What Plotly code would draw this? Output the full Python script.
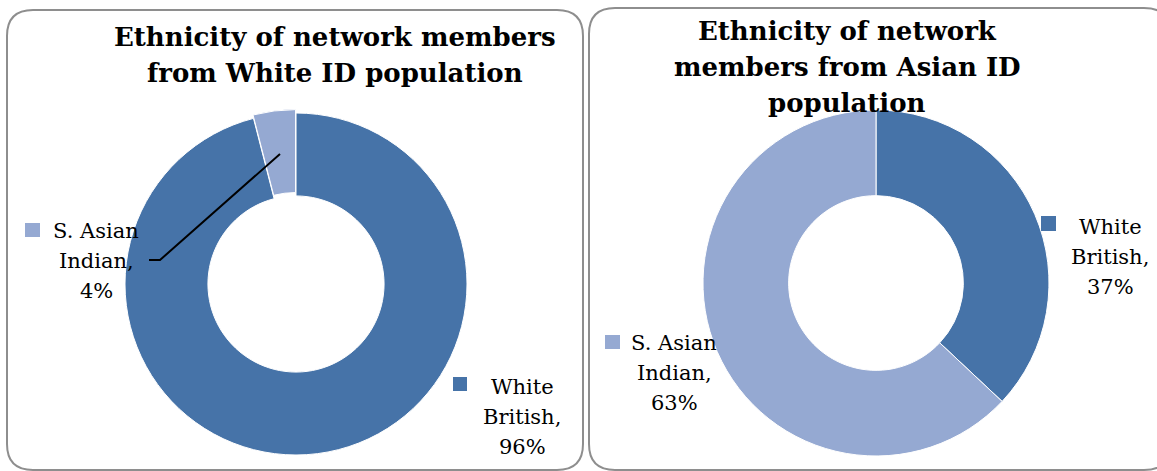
import plotly.graph_objects as go

W, H = 1157, 471

# ---- data ----
categories = ["White British", "S. Asian Indian"]
white_id_pct = [96, 4]
asian_id_pct = [37, 63]
titles = [
    ["Ethnicity of network members", "from White ID population"],
    ["Ethnicity of network", "members from Asian ID", "population"],
]

colors = ["#4673A8", "#95A9D2"]
FONT = "DejaVu Serif"

def px(x):
    return x / W

def py(y):
    return 1 - y / H

fig = go.Figure()

def add_donut(cx, cy, r, values, pull, hole):
    maxpull = max(pull)
    half = r * (1 + maxpull)
    fig.add_trace(go.Pie(
        labels=categories, values=values, sort=False, direction="clockwise",
        rotation=0, hole=hole, pull=pull, textinfo="none", hoverinfo="label+percent",
        marker=dict(colors=colors, line=dict(color="white", width=1)),
        domain=dict(x=[px(cx - half), px(cx + half)], y=[py(cy + half), py(cy - half)]),
        showlegend=False,
    ))

add_donut(296, 284, 171, white_id_pct, [0, 0.02], 0.515)
add_donut(876, 283, 173, asian_id_pct, [0, 0], 0.505)

shapes = []

def rounded_rect(x0, y0, x1, y1, rad):
    p = (f"M {px(x0+rad)},{py(y0)} L {px(x1-rad)},{py(y0)} "
         f"Q {px(x1)},{py(y0)} {px(x1)},{py(y0+rad)} L {px(x1)},{py(y1-rad)} "
         f"Q {px(x1)},{py(y1)} {px(x1-rad)},{py(y1)} L {px(x0+rad)},{py(y1)} "
         f"Q {px(x0)},{py(y1)} {px(x0)},{py(y1-rad)} L {px(x0)},{py(y0+rad)} "
         f"Q {px(x0)},{py(y0)} {px(x0+rad)},{py(y0)} Z")
    shapes.append(dict(type="path", path=p, xref="paper", yref="paper",
                       line=dict(color="#8E8E8E", width=2), layer="below"))

rounded_rect(7, 10, 583, 470, 26)
rounded_rect(589, 8, 1170, 470, 26)

annotations = []

def text_line(x, y, s, size, bold=False):
    annotations.append(dict(
        x=px(x), y=py(y), xref="paper", yref="paper", showarrow=False,
        text=f"<b>{s}</b>" if bold else s, xanchor="center", yanchor="middle",
        font=dict(family=FONT, size=size, color="black")))

# titles
for i, line in enumerate(titles[0]):
    text_line(335, 37 + 36 * i, line, 26, bold=True)
for i, line in enumerate(titles[1]):
    text_line(847, 31 + 36 * i, line, 26, bold=True)

def label(cx, y0, name, pct, color, sq):
    first, last = name.rsplit(" ", 1)
    lines = [first, last + ",", f"{pct}%"]
    for i, s in enumerate(lines):
        text_line(cx, y0 + 30 * i, s, 21)
    x0, y0s, x1, y1 = sq
    shapes.append(dict(type="rect", xref="paper", yref="paper",
                       x0=px(x0), x1=px(x1), y0=py(y1), y1=py(y0s),
                       fillcolor=color, line=dict(width=0)))

label(96, 231, categories[1], white_id_pct[1], colors[1], (25, 223, 40, 237))
label(522, 387, categories[0], white_id_pct[0], colors[0], (453, 377, 467, 391))
label(1110, 227, categories[0], asian_id_pct[0], colors[0], (1041, 216, 1056, 231))
label(674, 343, categories[1], asian_id_pct[1], colors[1], (605, 335, 620, 349))

# leader line for the small slice
shapes.append(dict(type="path", xref="paper", yref="paper",
                   path=f"M {px(149)},{py(260)} L {px(160)},{py(260)} L {px(280)},{py(154)}",
                   line=dict(color="black", width=2)))

fig.update_layout(
    width=W, height=H, margin=dict(l=0, r=0, t=0, b=0),
    paper_bgcolor="white", plot_bgcolor="white",
    shapes=shapes, annotations=annotations,
)

fig.write_html("out.html")
